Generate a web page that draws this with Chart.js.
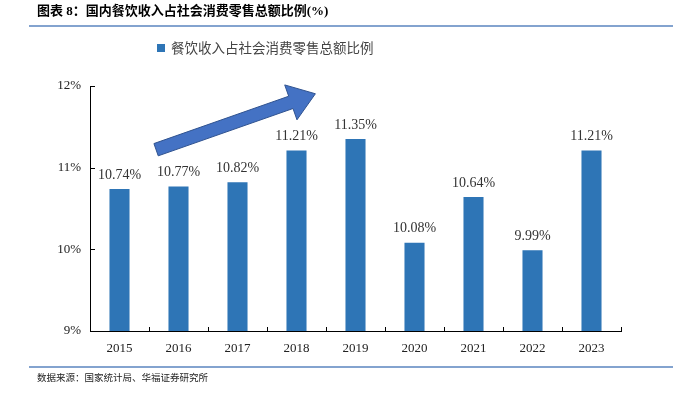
<!DOCTYPE html>
<html>
<head>
<meta charset="utf-8">
<script src="https://cdn.jsdelivr.net/npm/chart.js@4/dist/chart.umd.min.js"></script>
<style>
  html, body { margin: 0; padding: 0; background: #fff; }
  #wrap { width: 673px; height: 393px; position: relative; }
</style>
</head>
<body>
<div id="wrap"><canvas id="chart" width="673" height="393"></canvas></div>
<script>
//---------------------------------------------
// DATA
//---------------------------------------------
const years = ["2015", "2016", "2017", "2018", "2019", "2020", "2021", "2022", "2023"];
const ratio = [10.74, 10.77, 10.82, 11.21, 11.35, 10.08, 10.64, 9.99, 11.21];
const yTicks = [9, 10, 11, 12];

const titleText = "图表 8：国内餐饮收入占社会消费零售总额比例(%)";
const seriesName = "餐饮收入占社会消费零售总额比例";
const sourceText = "数据来源：国家统计局、华福证券研究所";

const BAR = "#2E75B6";
const RULE = "#5B85C0";
const SERIF = "'Liberation Serif', 'Times New Roman', serif";
const CJK = "'Noto Sans CJK SC', sans-serif";

//---------------------------------------------
// HEADER / FOOTER / LEGEND / LABELS / ARROW
//---------------------------------------------
const decorPlugin = {
    id: "decor",
    beforeDraw(chart) {
        const c = chart.ctx;
        c.save();
        // title
        c.fillStyle = "#000";
        c.textBaseline = "middle";
        c.textAlign = "left";
        c.font = "bold 13px " + SERIF + ", " + CJK;
        c.fillText(titleText, 37, 12);
        // rules
        c.strokeStyle = RULE;
        c.lineWidth = 1.5;
        c.beginPath();
        c.moveTo(29, 26); c.lineTo(673, 26);
        c.moveTo(29, 367); c.lineTo(673, 367);
        c.stroke();
        // legend
        c.fillStyle = BAR;
        c.fillRect(157, 44, 8, 8);
        c.fillStyle = "#444";
        c.font = "13.5px " + CJK;
        c.fillText(seriesName, 171, 48);
        // source
        c.fillStyle = "#222";
        c.font = "9.5px " + CJK;
        c.fillText(sourceText, 37, 377);
        c.restore();
    },
    afterDatasetsDraw(chart) {
        const c = chart.ctx;
        const xs = chart.scales.x, ys = chart.scales.y;
        const area = chart.chartArea;
        c.save();
        // inward tick marks
        c.strokeStyle = "#000";
        c.lineWidth = 1;
        c.beginPath();
        yTicks.forEach(v => {
            const y = Math.round(ys.getPixelForValue(v)) + 0.5;
            c.moveTo(area.left, y); c.lineTo(area.left + 5, y);
        });
        for (let i = 0; i <= years.length; i++) {
            const x = Math.round(xs.getPixelForValue(i - 0.5)) + 0.5;
            c.moveTo(x, area.bottom); c.lineTo(x, area.bottom - 4);
        }
        c.stroke();

        // value labels
        const meta = chart.getDatasetMeta(0);
        c.fillStyle = "#333";
        c.font = "14px " + SERIF;
        c.textAlign = "center";
        c.textBaseline = "bottom";
        meta.data.forEach((bar, i) => {
            c.fillText(ratio[i].toFixed(2) + "%", bar.x, bar.y - 7);
        });

        // trend arrow (anchored to the scales)
        const tx = xs.getPixelForValue(0.62), ty = ys.getPixelForValue(11.22);
        const px = xs.getPixelForValue(3.32), py = ys.getPixelForValue(11.905);
        const dx = px - tx, dy = py - ty;
        const len = Math.hypot(dx, dy);
        const ux = dx / len, uy = dy / len;
        const nx = -uy, ny = ux;
        const shaft = 6.5, head = 18.5, headLen = 26;
        const bx = px - ux * headLen, by = py - uy * headLen;
        c.beginPath();
        c.moveTo(tx + nx * shaft, ty + ny * shaft);
        c.lineTo(bx + nx * shaft, by + ny * shaft);
        c.lineTo(bx + nx * head, by + ny * head);
        c.lineTo(px, py);
        c.lineTo(bx - nx * head, by - ny * head);
        c.lineTo(bx - nx * shaft, by - ny * shaft);
        c.lineTo(tx - nx * shaft, ty - ny * shaft);
        c.closePath();
        c.fillStyle = "#4472C4";
        c.fill();
        c.strokeStyle = "#2F528F";
        c.lineWidth = 1;
        c.stroke();
        c.restore();
    }
};

//---------------------------------------------
// CHART
//---------------------------------------------
new Chart(document.getElementById("chart").getContext("2d"), {
    type: "bar",
    data: {
        labels: years,
        datasets: [{
            label: seriesName,
            data: ratio,
            backgroundColor: BAR,
            categoryPercentage: 1,
            barPercentage: 0.34
        }]
    },
    options: {
        responsive: false,
        animation: false,
        layout: { padding: { left: 0, right: 52, top: 86, bottom: 32 } },
        plugins: { legend: { display: false }, tooltip: { enabled: false } },
        scales: {
            x: {
                grid: { display: false, drawTicks: false },
                border: { display: true, color: "#000", width: 1 },
                ticks: { color: "#222", font: { family: SERIF, size: 13 }, padding: 10, maxRotation: 0 },
                afterFit(s) { s.height = 30; }
            },
            y: {
                min: 9, max: 12,
                grid: { display: false, drawTicks: false },
                border: { display: true, color: "#000", width: 1 },
                ticks: {
                    stepSize: 1,
                    color: "#222",
                    font: { family: SERIF, size: 13 },
                    padding: 9,
                    callback: v => v + "%"
                },
                afterFit(s) { s.width = 90; }
            }
        }
    },
    plugins: [decorPlugin]
});
</script>
</body>
</html>
